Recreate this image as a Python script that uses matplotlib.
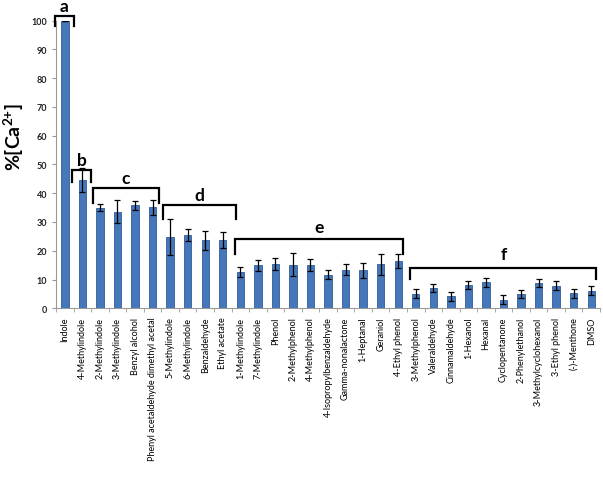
import numpy as np
import matplotlib
matplotlib.use('Agg')
import matplotlib.pyplot as plt

plt.rcParams['font.family'] = ['Lato', 'DejaVu Sans']
plt.rcParams['mathtext.fontset'] = 'custom'
plt.rcParams['mathtext.bf'] = 'Lato:bold'
plt.rcParams['mathtext.rm'] = 'Lato'

compounds = ['Indole', '4-Methylindole', '2-Methylindole', '3-Methylindole', 'Benzyl alcohol',
             'Phenyl acetaldehyde dimethyl acetal', '5-Methylindole', '6-Methylindole',
             'Benzaldehyde', 'Ethyl acetate', '1-Methylindole', '7-Methylindole', 'Phenol',
             '2-Methylphenol', '4-Methylphenol', '4-Isopropylbenzaldehyde', 'Gamma-nonalactone',
             '1-Heptanal', 'Geraniol', '4-Ethyl phenol', '3-Methylphenol', 'Valeraldehyde',
             'Cinnamaldehyde', '1-Hexanol', 'Hexanal', 'Cyclopentanone', '2-Phenylethanol',
             '3-Methylcyclohexanol', '3-Ethyl phenol', '(-)-Menthone', 'DMSO']
ca = [100, 44.7, 34.9, 33.6, 35.8, 35.1, 24.7, 25.5, 23.7, 23.7, 12.7, 14.9, 15.4,
      15.2, 15.0, 11.7, 13.4, 13.2, 15.3, 16.3, 5.1, 7.0, 4.1, 8.1, 9.0, 3.0, 5.0,
      8.8, 7.9, 5.2, 6.1]
err = [0, 4.1, 1.2, 3.9, 1.5, 2.7, 6.3, 2.0, 3.3, 2.8, 1.7, 1.8, 2.1, 4.0, 2.0, 1.6,
       2.0, 2.7, 3.7, 2.4, 1.5, 1.4, 1.4, 1.4, 1.5, 1.5, 1.5, 1.5, 1.5, 1.5, 1.5]

# significance groups: bracket ends, bracket top, leg bottom, letter baseline
groups = ['a', 'b', 'c', 'd', 'e', 'f']
g_x0 = [-0.57, 0.4, 1.6, 5.6, 9.7, 19.7]
g_x1 = [0.51, 1.5, 5.36, 9.76, 19.3, 30.3]
g_top = [101.6, 48.1, 41.9, 36.0, 24.1, 13.9]
g_bot = [98.2, 43.9, 36.6, 31.0, 18.9, 10.2]
g_lab = [103.4, 49.9, 43.6, 37.5, 26.4, 17.2]

fig = plt.figure(figsize=(6.03, 4.81), dpi=100)
ax = fig.add_axes([0.093, 0.357, 0.902, 0.598])

x = np.arange(len(compounds))
ax.bar(x, ca, width=0.42, color='#4677BA', edgecolor='#2F5C99', linewidth=0.6, zorder=2)
ax.errorbar(x, ca, yerr=err, fmt='none', ecolor='black', elinewidth=0.9,
            capsize=2.2, capthick=0.9, zorder=3)

for lab, x0, x1, yt, yb, yl in zip(groups, g_x0, g_x1, g_top, g_bot, g_lab):
    ax.plot([x0, x0, x1, x1], [yb, yt, yt, yb], color='black', lw=1.6,
            clip_on=False, solid_joinstyle='miter', zorder=4)
    ax.text((x0 + x1) / 2, yl, lab, ha='center', va='baseline', fontsize=12.5,
            fontweight='bold', clip_on=False)

ax.set_xlim(-0.5, len(compounds) - 0.5)
ax.set_ylim(0, 100)
ax.set_yticks(np.arange(0, 101, 10))
ax.tick_params(axis='y', labelsize=6.5, length=3, color='#999999', labelcolor='#222222')
for t in ax.get_yticklabels():
    t.set_fontweight('bold')
ax.set_xticks(x)
ax.set_xticklabels(compounds, rotation=90, fontsize=6.5)
ax.tick_params(axis='x', length=0, pad=6)
ax.set_xticks(np.arange(-0.5, len(compounds), 1), minor=True)
ax.tick_params(axis='x', which='minor', length=3, color='#999999')

for s in ['top', 'right']:
    ax.spines[s].set_visible(False)
for s in ['left', 'bottom']:
    ax.spines[s].set_color('#999999')
    ax.spines[s].set_linewidth(0.8)

ax.set_ylabel(r'%[Ca$^{\mathbf{2{+}}}$]', fontsize=14, fontweight='bold')
ax.yaxis.set_label_coords(-0.056, 0.6)

fig.savefig('out.png', dpi=100)
